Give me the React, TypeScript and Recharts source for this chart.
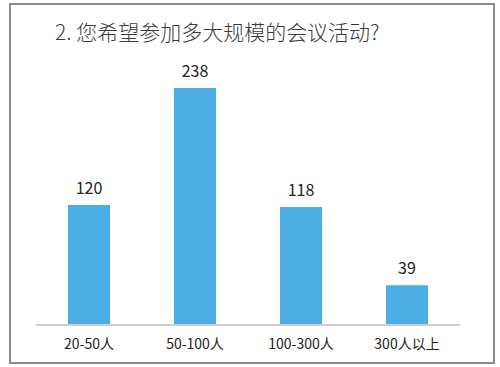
import { BarChart, Bar, XAxis, YAxis, LabelList } from 'recharts';

const categories = ['20-50人', '50-100人', '100-300人', '300人以上'];
const counts = [120, 238, 118, 39];
const edgeTicks = [0, 1, 2, 3, 4];

const data = categories.map((name, i) => ({ name, value: counts[i] }));

const FONT = '"Noto Sans CJK SC", "Noto Sans", sans-serif';

export default function App() {
  return (
    <div style={{ position: 'absolute', left: 0, top: 0, width: 500, height: 367, background: '#fff' }}>
      <div
        style={{
          position: 'absolute',
          left: 9,
          top: 3,
          width: 482,
          height: 357,
          border: '2px solid #8c8c8c',
        }}
      />
      <div
        style={{
          position: 'absolute',
          left: 55,
          top: 16,
          fontFamily: FONT,
          fontSize: 21,
          fontWeight: 300,
          color: '#3a3a3a',
          whiteSpace: 'nowrap',
        }}
      >
        2. 您希望参加多大规模的会议活动?
      </div>
      <div style={{ position: 'absolute', left: 0, top: 0 }}>
        <BarChart width={500} height={367} data={data} margin={{ top: 76, right: 40, bottom: 41, left: 36 }}>
          <XAxis
            dataKey="name"
            height={1}
            axisLine={false}
            tickLine={false}
            tickMargin={9}
            tick={{ fontSize: 14, fill: '#222', fontFamily: FONT }}
          />
          <XAxis
            xAxisId="edge"
            type="number"
            domain={[0, 4]}
            ticks={edgeTicks}
            allowDataOverflow
            height={1}
            tick={false}
            axisLine={{ stroke: '#bdbdbd', strokeWidth: 1.5 }}
            tickLine={{ stroke: '#bdbdbd' }}
            tickSize={5}
          />
          <YAxis hide domain={[0, 250]} />
          <Bar dataKey="value" fill="#4aaee4" barSize={42} isAnimationActive={false}>
            <LabelList dataKey="value" position="top" offset={11} style={{ fontSize: 16, fill: '#222', fontFamily: FONT }} />
          </Bar>
        </BarChart>
      </div>
    </div>
  );
}
